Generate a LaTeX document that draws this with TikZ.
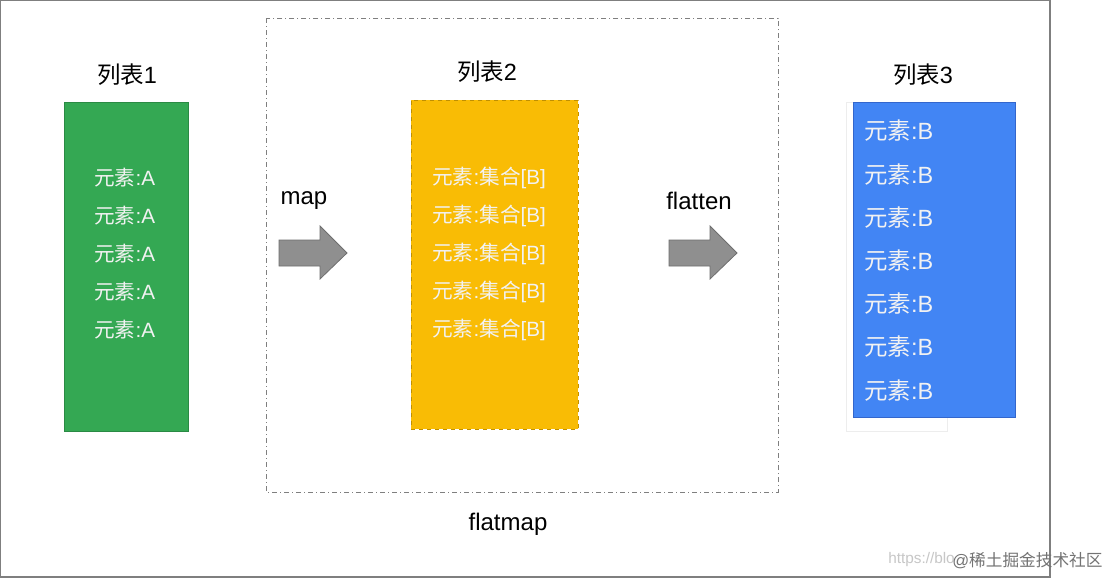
\documentclass[tikz,border=0pt]{standalone}
\usepackage{fontspec}
\setmainfont{Liberation Sans}
\newfontfamily\cjkfont{Noto Sans CJK SC}
\newcommand\zh[1]{{\cjkfont #1}}
\definecolor{gframe}{HTML}{7F7F7F}
\definecolor{ggreen}{HTML}{34A853}
\definecolor{ggreenb}{HTML}{2A8A44}
\definecolor{gyellow}{HTML}{F9BC05}
\definecolor{gyellowb}{HTML}{C08F00}
\definecolor{gblue}{HTML}{4285F4}
\definecolor{gblueb}{HTML}{3366CC}
\definecolor{arrowgray}{HTML}{8F8F8F}
\definecolor{arrowb}{HTML}{6E6E6E}
\definecolor{itemtxt}{HTML}{F2F2F2}
\begin{document}
\begin{tikzpicture}[x=0.75pt,y=-0.75pt,
  title/.style={inner sep=0pt,font=\fontsize{17.6}{20}\selectfont},
  lbl/.style={inner sep=0pt,font=\fontsize{18}{21}\selectfont},
  item/.style={inner sep=0pt,anchor=west,text=itemtxt,font=\fontsize{15.5}{18}\selectfont},
  bitem/.style={inner sep=0pt,anchor=west,text=itemtxt,font=\fontsize{17.6}{20}\selectfont},
  fatarrow/.style={fill=arrowgray,draw=arrowb,line width=0.6pt}]
\useasboundingbox (0,0) rectangle (1117,578);
\fill[white] (0,0) rectangle (1117,578);
% outer frame
\draw[gframe,line width=1pt] (0.5,0.5) rectangle (1050,577);
% flatmap frame
\draw[gframe,line width=0.7pt,dash pattern=on 4pt off 2pt on 1pt off 2pt] (266,18) rectangle (778,492);
% boxes
\node[draw=ggreenb,fill=ggreen,line width=0.7pt,minimum width=124*0.75pt,minimum height=329*0.75pt,inner sep=0pt,anchor=north west] (l1) at (64,102) {};
\node[draw=gyellowb,fill=gyellow,dashed,line width=0.7pt,minimum width=167*0.75pt,minimum height=329*0.75pt,inner sep=0pt,anchor=north west] (l2) at (411,100) {};
\draw[draw=black!7,line width=0.7pt] (846,102) rectangle (947,431);
\node[draw=gblueb,fill=gblue,line width=0.7pt,minimum width=162*0.75pt,minimum height=315*0.75pt,inner sep=0pt,anchor=north west] (l3) at (853,102) {};
% titles
\node[title] (t1) at (127,75) {\zh{列表}1};
\node[title] (t2) at (487,72) {\zh{列表}2};
\node[title] (t3) at (923,75) {\zh{列表}3};
% items
\foreach \y [count=\i] in {178,216,254,292,330} {
  \node[item] (a\i) at (94,\y) {\zh{元素}:A};
  \node[item] (b\i) at (432,\y) {\zh{元素}:\zh{集合}[B]};
}
\foreach \y [count=\i] in {131,175,218,261,304,347,391} {
  \node[bitem] (c\i) at (864,\y) {\zh{元素}:B};
}
% arrows
\draw[fatarrow] (279,240) -- (320,240) -- (320,226) -- (347,253) -- (320,279) -- (320,266) -- (279,266) -- cycle;
\draw[fatarrow] (669,240) -- (710,240) -- (710,226) -- (737,253) -- (710,279) -- (710,266) -- (669,266) -- cycle;
% labels
\node[lbl] (map) at (304,201) {map};
\node[lbl] (flatten) at (699,201) {flatten};
\node[lbl] (flatmap) at (508,524) {flatmap};
% watermark
\node[inner sep=0pt,anchor=west,text=black!22,font=\fontsize{11.5}{14}\selectfont] (wm1) at (888,560) {https://blo};
\node[inner sep=0pt,anchor=west,text=black!55,font=\fontsize{12.5}{15}\selectfont] (wm2) at (952,561) {@\zh{稀土掘金技术社区}};
\end{tikzpicture}
\end{document}
